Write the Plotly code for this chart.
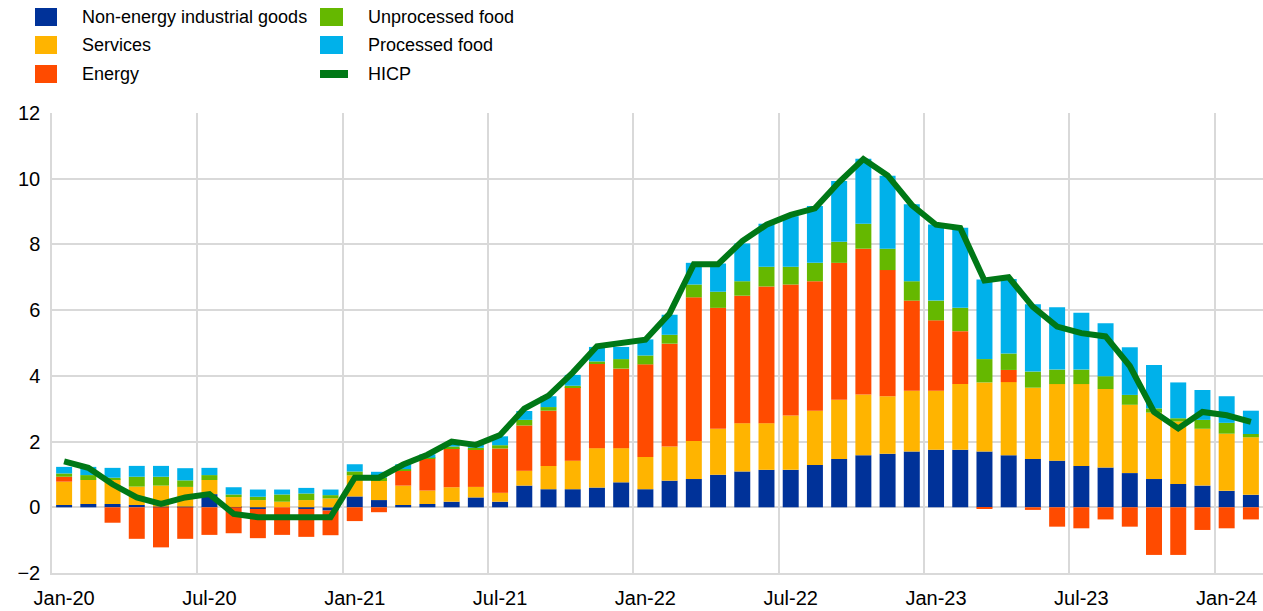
import plotly.graph_objects as go

# ---- data (percentage-point contributions, HICP annual % change) ----
tick_labels = ["Jan-20", "Jul-20", "Jan-21", "Jul-21", "Jan-22",
               "Jul-22", "Jan-23", "Jul-23", "Jan-24"]

neig = [0.07, 0.10, 0.10, 0.07, 0.02, 0.02, 0.40, 0.01, -0.05, 0.00, -0.05, -0.10,
        0.33, 0.22, 0.07, 0.10, 0.17, 0.30, 0.17, 0.66, 0.55, 0.55, 0.60, 0.76,
        0.55, 0.81, 0.86, 0.99, 1.09, 1.14, 1.14, 1.29, 1.47, 1.58, 1.63, 1.70,
        1.75, 1.75, 1.70, 1.58, 1.47, 1.42, 1.26, 1.21, 1.04, 0.86, 0.71, 0.66,
        0.50, 0.38]

services = [0.71, 0.73, 0.75, 0.56, 0.64, 0.60, 0.43, 0.30, 0.22, 0.17, 0.22, 0.27,
            0.64, 0.58, 0.59, 0.41, 0.44, 0.32, 0.27, 0.45, 0.71, 0.87, 1.20, 1.04,
            0.98, 1.04, 1.16, 1.40, 1.47, 1.42, 1.65, 1.65, 1.80, 1.85, 1.75, 1.85,
            1.80, 2.00, 2.10, 2.23, 2.17, 2.33, 2.49, 2.39, 2.08, 2.02, 1.90, 1.73,
            1.74, 1.75]

energy = [0.15, 0.00, -0.47, -0.96, -1.22, -0.96, -0.84, -0.79, -0.89, -0.84, -0.85, -0.75,
          -0.42, -0.15, 0.45, 0.97, 1.19, 1.14, 1.35, 1.38, 1.68, 2.24, 2.59, 2.42,
          2.82, 3.13, 4.37, 3.68, 3.88, 4.16, 3.99, 3.94, 4.17, 4.44, 3.84, 2.74,
          2.14, 1.61, -0.03, 0.37, -0.08, -0.59, -0.64, -0.37, -0.59, -1.45, -1.45, -0.69,
          -0.64, -0.37]

unprocessed_food = [0.10, 0.15, 0.05, 0.30, 0.27, 0.20, 0.15, 0.08, 0.10, 0.22, 0.20, 0.10,
                    0.12, 0.10, 0.05, 0.03, 0.05, 0.05, 0.10, 0.17, 0.11, 0.04, 0.05, 0.29,
                    0.27, 0.27, 0.39, 0.49, 0.44, 0.60, 0.54, 0.56, 0.64, 0.76, 0.65, 0.59,
                    0.60, 0.71, 0.71, 0.50, 0.49, 0.44, 0.44, 0.39, 0.30, 0.13, 0.10, 0.27,
                    0.33, 0.10]

processed_food = [0.20, 0.25, 0.30, 0.33, 0.33, 0.37, 0.22, 0.22, 0.22, 0.15, 0.17, 0.17,
                  0.22, 0.18, 0.15, 0.10, 0.10, 0.10, 0.27, 0.27, 0.33, 0.33, 0.44, 0.37,
                  0.49, 0.61, 0.66, 0.86, 1.15, 1.31, 1.54, 1.73, 1.85, 1.98, 2.22, 2.34,
                  2.32, 2.44, 2.42, 2.27, 2.05, 1.90, 1.73, 1.61, 1.45, 1.32, 1.09, 0.91,
                  0.81, 0.71]

hicp = [1.4, 1.2, 0.7, 0.3, 0.1, 0.3, 0.4, -0.2, -0.3, -0.3, -0.3, -0.3,
        0.9, 0.9, 1.3, 1.6, 2.0, 1.9, 2.2, 3.0, 3.4, 4.1, 4.9, 5.0,
        5.1, 5.9, 7.4, 7.4, 8.1, 8.6, 8.9, 9.1, 9.9, 10.6, 10.1, 9.2,
        8.6, 8.5, 6.9, 7.0, 6.1, 5.5, 5.3, 5.2, 4.3, 2.9, 2.4, 2.9,
        2.8, 2.6]

# ---- styling ----
C_NEIG, C_SERV, C_ENER = "#003299", "#FFB400", "#FF4B00"
C_UNPR, C_PROC, C_HICP = "#65B800", "#00B1EA", "#007816"
GRID = "#d9d9d9"
FONT = "Arial, Liberation Sans, sans-serif"

x = list(range(len(hicp)))
tick_pos = list(range(0, len(hicp), 6))

fig = go.Figure()
bar_series = [
    ("Non-energy industrial goods", neig, C_NEIG),
    ("Services", services, C_SERV),
    ("Energy", energy, C_ENER),
    ("Unprocessed food", unprocessed_food, C_UNPR),
    ("Processed food", processed_food, C_PROC),
]
for name, vals, col in bar_series:
    fig.add_trace(go.Bar(x=x, y=vals, name=name, marker_color=col,
                         marker_line_width=0, showlegend=False))
fig.add_trace(go.Scatter(x=x, y=hicp, name="HICP", mode="lines",
                         line=dict(color=C_HICP, width=6), showlegend=False))

# plot-area geometry in pixels
W, H = 1263, 611
L, R, T, B = 52, 1263, 113, 573


def pxx(p):
    return (p - L) / (R - L)


def pxy(p):
    return (B - p) / (B - T)


# manual legend (two columns)
legend_items = [
    ("Non-energy industrial goods", C_NEIG, 0, 0, "box"),
    ("Services", C_SERV, 0, 1, "box"),
    ("Energy", C_ENER, 0, 2, "box"),
    ("Unprocessed food", C_UNPR, 1, 0, "box"),
    ("Processed food", C_PROC, 1, 1, "box"),
    ("HICP", C_HICP, 1, 2, "line"),
]
col_swatch = [(35, 57), (320, 343)]
col_text = [80, 366]
row_center = [17, 45, 74]
shapes = []
annotations = []
for label, col, c, r, kind in legend_items:
    x0, x1 = col_swatch[c]
    yc = row_center[r]
    if kind == "box":
        y0, y1 = yc - 9, yc + 9
    else:
        x1 = 348
        y0, y1 = yc - 4, yc + 4
    shapes.append(dict(type="rect", xref="paper", yref="paper",
                       x0=pxx(x0), x1=pxx(x1), y0=pxy(y1), y1=pxy(y0),
                       fillcolor=col, line=dict(width=0), layer="above"))
    annotations.append(dict(xref="paper", yref="paper", x=pxx(col_text[c]), y=pxy(yc),
                            xanchor="left", yanchor="middle", showarrow=False,
                            text=label, font=dict(family=FONT, size=18, color="#000000")))

fig.update_layout(
    width=W, height=H,
    margin=dict(l=L, r=W - R, t=T, b=H - B, pad=0),
    barmode="relative", bargap=0.34,
    plot_bgcolor="white", paper_bgcolor="white",
    font=dict(family=FONT, size=20, color="#000000"),
    shapes=shapes, annotations=annotations,
    xaxis=dict(range=[-0.5, len(hicp) - 0.5], tickmode="array", tickvals=tick_pos,
               ticktext=tick_labels, showgrid=False, zeroline=False,
               showline=True, linecolor=GRID, linewidth=1.5, ticks="",
               ticklabelstandoff=6,
               minor=dict(tickmode="linear", tick0=-0.5, dtick=6, showgrid=True,
                          gridcolor=GRID, gridwidth=1.5, ticks="")),
    yaxis=dict(range=[-2, 12], dtick=2, showgrid=True, gridcolor=GRID, gridwidth=1.5,
               zeroline=True, zerolinecolor=GRID, zerolinewidth=1.5,
               showline=True, linecolor=GRID, linewidth=1.5, ticks="",
               ticklabelstandoff=6),
)

fig.write_html("out.html",
               config={"displayModeBar": False},
               post_script="document.body.style.margin='0';"
                           "document.body.style.overflow='hidden';")
